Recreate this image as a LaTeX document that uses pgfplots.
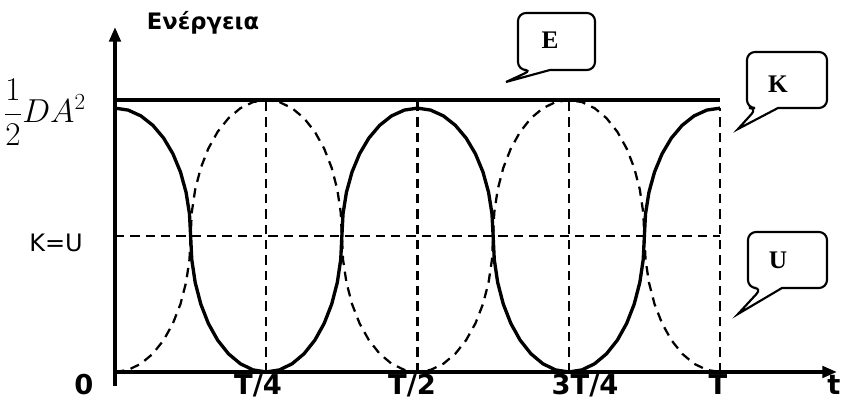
\documentclass[border=0pt]{standalone}
\usepackage{fontspec}
\setmainfont{DejaVu Sans}
\newfontfamily\tnr{Liberation Serif}
\usepackage{pgfplots}
\pgfplotsset{compat=1.18}
\usetikzlibrary{arrows.meta}
\begin{document}
\begin{tikzpicture}
\path[use as bounding box] (0,0) rectangle (633pt,301.5pt);
\begin{axis}[at={(0,0)},anchor=south west, scale only axis, width=633pt, height=301.5pt,
  xmin=-0.7603, xmax=4.8198, ymin=-0.1103, ymax=1.3676, hide axis, clip=false]
% grid lines
\addplot[black, line width=1.7pt, dash pattern=on 7pt off 4.5pt] coordinates {(0,0.5) (4,0.5)};
\addplot[black, line width=1.7pt, dash pattern=on 7pt off 4.5pt] coordinates {(1,0) (1,1)};
\addplot[black, line width=1.7pt, dash pattern=on 7pt off 4.5pt] coordinates {(2,0) (2,1)};
\addplot[black, line width=1.7pt, dash pattern=on 7pt off 4.5pt] coordinates {(3,0) (3,1)};
\addplot[black, line width=1.7pt, dash pattern=on 7pt off 4.5pt] coordinates {(4,0) (4,0.97)};
% U (dashed)
\addplot[black, line width=1.7pt, dash pattern=on 7pt off 5pt] table {
x y
0 0
0.0868 0.0076
0.171 0.0302
0.25 0.067
0.3214 0.117
0.383 0.1786
0.433 0.25
0.4698 0.329
0.4924 0.4132
0.5 0.5
0.5076 0.5868
0.5302 0.671
0.567 0.75
0.617 0.8214
0.6786 0.883
0.75 0.933
0.829 0.9698
0.9132 0.9924
1 1
1.0868 0.9924
1.171 0.9698
1.25 0.933
1.3214 0.883
1.383 0.8214
1.433 0.75
1.4698 0.671
1.4924 0.5868
1.5 0.5
1.5076 0.4132
1.5302 0.329
1.567 0.25
1.617 0.1786
1.6786 0.117
1.75 0.067
1.829 0.0302
1.9132 0.0076
2 0
2.0868 0.0076
2.171 0.0302
2.25 0.067
2.3214 0.117
2.383 0.1786
2.433 0.25
2.4698 0.329
2.4924 0.4132
2.5 0.5
2.5076 0.5868
2.5302 0.671
2.567 0.75
2.617 0.8214
2.6786 0.883
2.75 0.933
2.829 0.9698
2.9132 0.9924
3 1
3.0868 0.9924
3.171 0.9698
3.25 0.933
3.3214 0.883
3.383 0.8214
3.433 0.75
3.4698 0.671
3.4924 0.5868
3.5 0.5
3.5076 0.4132
3.5302 0.329
3.567 0.25
3.617 0.1786
3.6786 0.117
3.75 0.067
3.829 0.0302
3.9132 0.0076
4 0
};
% K (solid)
\addplot[black, line width=2.5pt] table {
x y
0 0.97
0.0868 0.9629
0.171 0.9416
0.25 0.907
0.3214 0.86
0.383 0.8021
0.433 0.735
0.4698 0.6607
0.4924 0.5816
0.5 0.5
0.5076 0.4132
0.5302 0.329
0.567 0.25
0.617 0.1786
0.6786 0.117
0.75 0.067
0.829 0.0302
0.9132 0.0076
1 0
1.0868 0.0076
1.171 0.0302
1.25 0.067
1.3214 0.117
1.383 0.1786
1.433 0.25
1.4698 0.329
1.4924 0.4132
1.5 0.5
1.5076 0.5816
1.5302 0.6607
1.567 0.735
1.617 0.8021
1.6786 0.86
1.75 0.907
1.829 0.9416
1.9132 0.9629
2 0.97
2.0868 0.9629
2.171 0.9416
2.25 0.907
2.3214 0.86
2.383 0.8021
2.433 0.735
2.4698 0.6607
2.4924 0.5816
2.5 0.5
2.5076 0.4132
2.5302 0.329
2.567 0.25
2.617 0.1786
2.6786 0.117
2.75 0.067
2.829 0.0302
2.9132 0.0076
3 0
3.0868 0.0076
3.171 0.0302
3.25 0.067
3.3214 0.117
3.383 0.1786
3.433 0.25
3.4698 0.329
3.4924 0.4132
3.5 0.5
3.5076 0.5816
3.5302 0.6607
3.567 0.735
3.617 0.8021
3.6786 0.86
3.75 0.907
3.829 0.9416
3.9132 0.9629
4 0.97
};
% E (total energy)
\addplot[black, line width=2.8pt] coordinates {(0,1) (4,1)};
\end{axis}
\begin{scope}[x=0.75pt,y=-0.75pt,yshift=301.5pt]
% axes
\draw[line width=3pt, -{Triangle[length=11pt,width=8.5pt]}] (115,386) -- (115,27);
\draw[line width=2.7pt, -{Triangle[length=11pt,width=8.5pt]}] (113.5,372) -- (837,372);
% labels
\node[anchor=base, inner sep=0, font=\fontsize{17}{20}\selectfont\bfseries] at (203,30) {Ενέργεια};
\node[anchor=base, inner sep=0, font=\fontsize{18}{21}\selectfont] at (56,252) {K=U};
\node[anchor=base east, inner sep=0, font=\fontsize{23}{27}\selectfont] at (86,123) {$\displaystyle\frac{1}{2}DA^2$};
\foreach \xx/\lab in {84/{0}, 258/{T/4}, 412/{T/2}, 585/{3T/4}, 718/{T}, 834/{t}}
  \node[anchor=base, inner sep=0, font=\fontsize{20.5}{24}\selectfont\bfseries] at (\xx,395) {\lab};
% callouts
\draw[line width=1.6pt, fill=white, rounded corners=6pt] (532,70) [sharp corners] -- (506,82) -- (550,70) [rounded corners=6pt] -- (595,70) -- (595,13) -- (518,13) -- (518,70) -- cycle;
\draw[line width=1.6pt, fill=white, rounded corners=6pt] (757,108) [sharp corners] -- (738,129) -- (778,108) [rounded corners=6pt] -- (827,108) -- (827,52) -- (747,52) -- (747,108) -- cycle;
\draw[line width=1.6pt, fill=white, rounded corners=6pt] (762,288) [sharp corners] -- (738,314) -- (782,288) [rounded corners=6pt] -- (827,288) -- (827,232) -- (748,232) -- (748,288) -- cycle;
\node[inner sep=0, font=\fontsize{19}{22}\selectfont\tnr\bfseries] at (550,40) {E};
\node[inner sep=0, font=\fontsize{19}{22}\selectfont\tnr\bfseries] at (778,84.5) {K};
\node[inner sep=0, font=\fontsize{19}{22}\selectfont\tnr\bfseries] at (778,260) {U};
\end{scope}
\end{tikzpicture}
\end{document}
